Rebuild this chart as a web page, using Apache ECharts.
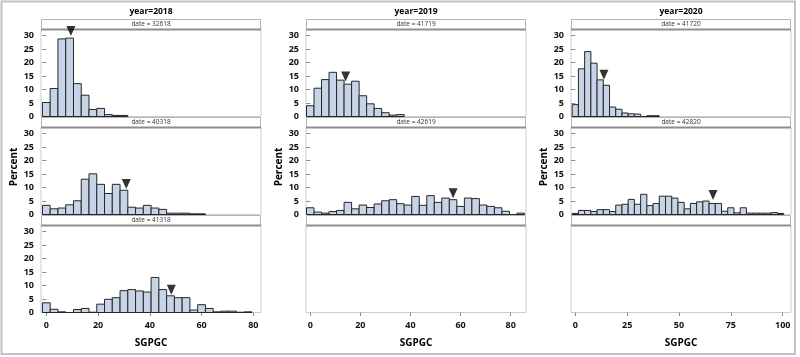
<!DOCTYPE html>
<html><head><meta charset="utf-8">
<script src="https://cdn.jsdelivr.net/npm/echarts@6/dist/echarts.min.js"></script>
<style>html,body{margin:0;padding:0;background:#fff}#c{width:800px;height:357px}</style>
</head><body><div id="c"></div>
<script>
// ---- data ----
const yearLabels = ['year=2018', 'year=2019', 'year=2020'];
const dateLabels2018 = ['date = 32618', 'date = 40318', 'date = 41318'];
const dateLabels2019 = ['date = 41719', 'date = 42619', ''];
const dateLabels2020 = ['date = 41720', 'date = 42820', ''];
const xTicks2018 = [0, 20, 40, 60, 80];
const xTicks2019 = [0, 20, 40, 60, 80];
const xTicks2020 = [0, 25, 50, 75, 100];
const yTicks = [0, 5, 10, 15, 20, 25, 30];
const binStart = 0, binWidth = 3;

const pct_2018_32618 = [5.2, 10.4, 28.8, 29.1, 12.2, 7.9, 2.6, 3.0, 0.7, 0.4, 0.4];
const pct_2018_40318 = [3.4, 2.1, 2.4, 3.6, 5.1, 13.1, 15.1, 11.2, 7.8, 11.2, 9.0, 2.7, 2.4, 3.4, 2.4, 1.9, 0.5, 0.5, 0.5, 0.25, 0.25];
const pct_2018_41318 = [3.6, 1.2, 0.25, 0, 1.1, 1.5, 0.1, 3.1, 4.9, 5.5, 8.1, 8.5, 8.0, 7.6, 13.0, 8.5, 6.2, 5.5, 5.5, 0.9, 2.9, 1.5, 0.25, 0.5, 0.5, 0.1, 0.25];
const pct_2019_41719 = [4.0, 10.5, 13.7, 16.4, 13.5, 12.0, 13.1, 7.7, 4.7, 3.0, 1.4, 0.5, 0.7];
const pct_2019_42619 = [2.5, 0.9, 0.5, 1.1, 1.5, 4.5, 2.1, 3.5, 2.6, 3.9, 5.1, 5.5, 4.0, 3.5, 6.7, 3.4, 7.0, 4.5, 6.1, 5.5, 3.0, 6.1, 5.9, 3.5, 3.0, 2.5, 1.2, 0, 0.5];
const pct_2020_41720 = [4.4, 17.7, 24.1, 19.8, 13.6, 11.6, 3.5, 2.7, 1.3, 1.0, 0.9, 0, 0.3, 0.3];
const pct_2020_42820 = [0.4, 1.5, 1.5, 1.1, 1.8, 1.8, 1.1, 3.5, 3.8, 5.6, 3.8, 7.5, 3.3, 4.1, 6.8, 6.8, 6.1, 4.5, 2.1, 4.1, 4.7, 5.0, 4.1, 4.1, 1.2, 2.5, 0.6, 2.5, 0.5, 0.5, 0.5, 0.5, 0.7, 0.4];

// median markers (x position, marker tip height) per panel, order: 32618, 40318, 41318, 41719, 42619, 41720, 42820
const markerX   = [9.5, 30.9, 48.3, 14.1, 57.0, 13.8, 66.4];
const markerTip = [29.9, 9.5, 6.6, 13.0, 6.0, 13.6, 5.4];

// ---- layout ----
const colLeft = [41, 306, 571], colW = 220;
const stripTop = [19, 117, 215], stripH = 10.5, plotH = 87;
const xRanges = [[-2.05, 82.97], [-1.7, 86.1], [-2.07, 104]];
const yMax = 32.3;
const FONT = 'Open Sans';

const columns = [
  { dates: dateLabels2018, ticks: xTicks2018, data: [pct_2018_32618, pct_2018_40318, pct_2018_41318] },
  { dates: dateLabels2019, ticks: xTicks2019, data: [pct_2019_41719, pct_2019_42619, null] },
  { dates: dateLabels2020, ticks: xTicks2020, data: [pct_2020_41720, pct_2020_42820, null] }
];

function renderBar(params, api) {
  const x = api.value(0), v = api.value(1);
  const a = api.coord([x - binWidth / 2, v]);
  const b = api.coord([x + binWidth / 2, 0]);
  return { type: 'rect', shape: { x: a[0], y: a[1], width: b[0] - a[0], height: b[1] - a[1] },
    style: { fill: '#c7d4e7', stroke: '#262626', lineWidth: 1 } };
}

const grids = [], xAxes = [], yAxes = [], series = [], graphics = [];
graphics.push({ type: 'rect', shape: { x: 1.5, y: 1.5, width: 793.5, height: 352.5 }, style: { fill: null, stroke: '#c2c2c2', lineWidth: 2 }, z: 0 });
let m = 0;
columns.forEach((col, c) => {
  const cx = colLeft[c] + colW / 2;
  graphics.push({ type: 'text', x: cx, y: 11.7, style: { text: yearLabels[c], font: 'bold 8.5px ' + FONT, fill: '#000', align: 'center', verticalAlign: 'middle' } });
  graphics.push({ type: 'text', x: 13.8 + (colLeft[c] - 41), y: 167, rotation: Math.PI / 2, style: { text: 'Percent', font: 'bold 10px ' + FONT, fill: '#000', align: 'center', verticalAlign: 'middle' } });
  graphics.push({ type: 'text', x: cx, y: 343, style: { text: 'SGPGC', font: 'bold 10px ' + FONT, fill: '#000', align: 'center', verticalAlign: 'middle' } });
  for (let r = 0; r < 3; r++) {
    const gi = grids.length;
    const st = stripTop[r];
    const hasData = !!col.data[r];
    graphics.push({ type: 'rect', shape: { x: colLeft[c] + 0.5, y: st + 0.5, width: colW - 1, height: stripH - 0.5 }, style: { fill: '#fff', stroke: '#b4b4b4', lineWidth: 1 }, z: 1 });
    graphics.push({ type: 'line', shape: { x1: colLeft[c], y1: st + stripH, x2: colLeft[c] + colW, y2: st + stripH }, style: { stroke: '#8e8e8e', lineWidth: 2 }, z: 1 });
    if (col.dates[r]) graphics.push({ type: 'text', x: cx, y: st + 5.3, z: 1, style: { text: col.dates[r], font: '6.5px ' + FONT, fill: '#333', align: 'center', verticalAlign: 'middle' } });
    grids.push({ left: colLeft[c], top: st + stripH, width: colW, height: plotH, show: true, borderColor: '#cdcdcd', borderWidth: 1, backgroundColor: '#fff', containLabel: false });
    xAxes.push({ type: 'value', gridIndex: gi, min: xRanges[c][0], max: xRanges[c][1],
      axisLine: { show: false }, splitLine: { show: false },
      axisTick: { show: r === 2, customValues: col.ticks, length: 3.5, lineStyle: { color: '#8a8a8a' } },
      axisLabel: { show: r === 2, customValues: col.ticks, margin: 8, fontSize: 9, fontWeight: 'bold', color: '#111', fontFamily: FONT } });
    yAxes.push({ type: 'value', gridIndex: gi, min: 0, max: yMax,
      axisLine: { show: false }, splitLine: { show: false },
      axisTick: { show: hasData, customValues: yTicks, length: 4, lineStyle: { color: '#8a8a8a' } },
      axisLabel: { show: hasData, customValues: yTicks, margin: 7, fontSize: 9, fontWeight: 'bold', color: '#111', fontFamily: FONT } });
    if (hasData) {
      series.push({ type: 'custom', xAxisIndex: gi, yAxisIndex: gi, renderItem: renderBar, silent: true, z: 5,
        data: col.data[r].map((v, k) => [binStart + k * binWidth, v]) });
      series.push({ type: 'scatter', xAxisIndex: gi, yAxisIndex: gi, silent: true, z: 60, clip: false,
        symbol: 'path://M0,0L10,0L5,11Z', symbolSize: [9, 10], symbolOffset: [0, -5],
        itemStyle: { color: '#000' }, data: [[markerX[m], markerTip[m]]] });
      m++;
    }
  }
});

const chart = echarts.init(document.getElementById('c'), null, { renderer: 'canvas' });
chart.setOption({ animation: false, backgroundColor: '#fff', grid: grids, xAxis: xAxes, yAxis: yAxes, series: series, graphic: graphics });
</script></body></html>
